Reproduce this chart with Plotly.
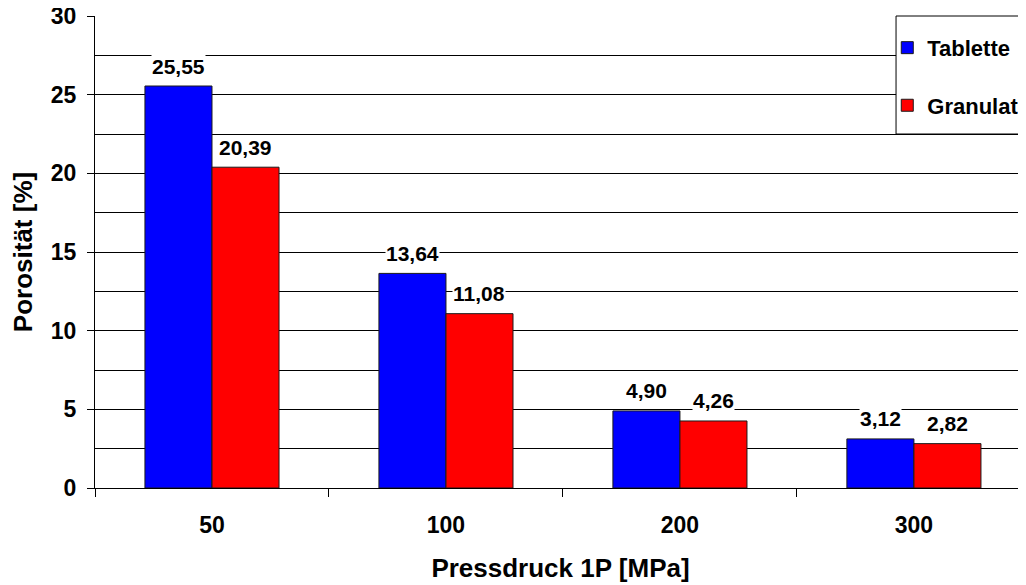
import plotly.graph_objects as go

categories = ["50", "100", "200", "300"]
tablette = [25.55, 13.64, 4.90, 3.12]
granulat = [20.39, 11.08, 4.26, 2.82]
series_names = ["Tablette", "Granulat"]
y_ticks = [0, 5, 10, 15, 20, 25, 30]

FONT = "Liberation Sans, Arial, sans-serif"
BLUE = "#0000FF"
RED = "#FF0000"
BARGAP = 0.427

fig = go.Figure()
for name, vals, col, grp in [(series_names[0], tablette, BLUE, "a"), (series_names[1], granulat, RED, "b")]:
    fig.add_trace(go.Bar(
        x=categories, y=vals, name=name, legendgroup=grp,
        marker=dict(color=col, line=dict(color="#1a1a1a", width=1)),
    ))

def fmt(v):
    return f"{v:.2f}".replace(".", ",")

half = (1 - BARGAP) / 4
annotations = []
for i, c in enumerate(categories):
    for vals, off in [(tablette, -half), (granulat, half)]:
        annotations.append(dict(
            x=i + off, y=vals[i], xref="x", yref="y",
            text=fmt(vals[i]), showarrow=False, yanchor="middle", yshift=20,
            bgcolor="white", borderpad=0,
            font=dict(family=FONT, size=21, color="black", weight="bold"),
        ))

fig.update_layout(
    width=1018, height=577,
    margin=dict(l=87, r=0, t=8, b=97, autoexpand=False),
    paper_bgcolor="white", plot_bgcolor="white",
    barmode="group", bargap=BARGAP, bargroupgap=0,
    font=dict(family=FONT, color="black"),
    annotations=annotations,
    showlegend=True,
    legend=dict(
        x=0.851, y=0.977, xanchor="left", yanchor="top",
        bgcolor="rgba(0,0,0,0)", borderwidth=0,
        traceorder="grouped", tracegroupgap=26,
        font=dict(family=FONT, size=22, color="black", weight="bold"),
    ),
    shapes=[dict(
        type="rect", xref="paper", yref="paper",
        x0=0.8604, x1=1.02, y0=0.75, y1=1.0,
        line=dict(color="black", width=1), fillcolor="white", layer="above",
    )],
)

fig.update_xaxes(
    type="category", range=[-0.5, 3.479], automargin=False,
    showline=True, linecolor="black", linewidth=1,
    ticks="outside", tickson="boundaries", ticklen=8, tickcolor="black",
    ticklabelstandoff=16,
    tickfont=dict(family=FONT, size=23, color="black", weight="bold"),
    title=dict(text="Pressdruck 1P [MPa]", standoff=22,
               font=dict(family=FONT, size=26, color="black", weight="bold")),
    showgrid=False,
)
fig.update_yaxes(
    range=[0, 30], tickvals=y_ticks, automargin=False,
    ticklabeloverflow="allow",
    showline=True, linecolor="black", linewidth=1,
    ticks="outside", ticklen=7, tickcolor="black",
    ticklabelstandoff=6,
    tickfont=dict(family=FONT, size=23, color="black", weight="bold"),
    showgrid=True, gridcolor="black", gridwidth=1,
    minor=dict(dtick=2.5, tick0=0, showgrid=True, gridcolor="black", gridwidth=1, ticks=""),
    zeroline=False,
    title=dict(text="Porosität [%]", standoff=14,
               font=dict(family=FONT, size=26, color="black", weight="bold")),
)

fig.write_html("out.html")
